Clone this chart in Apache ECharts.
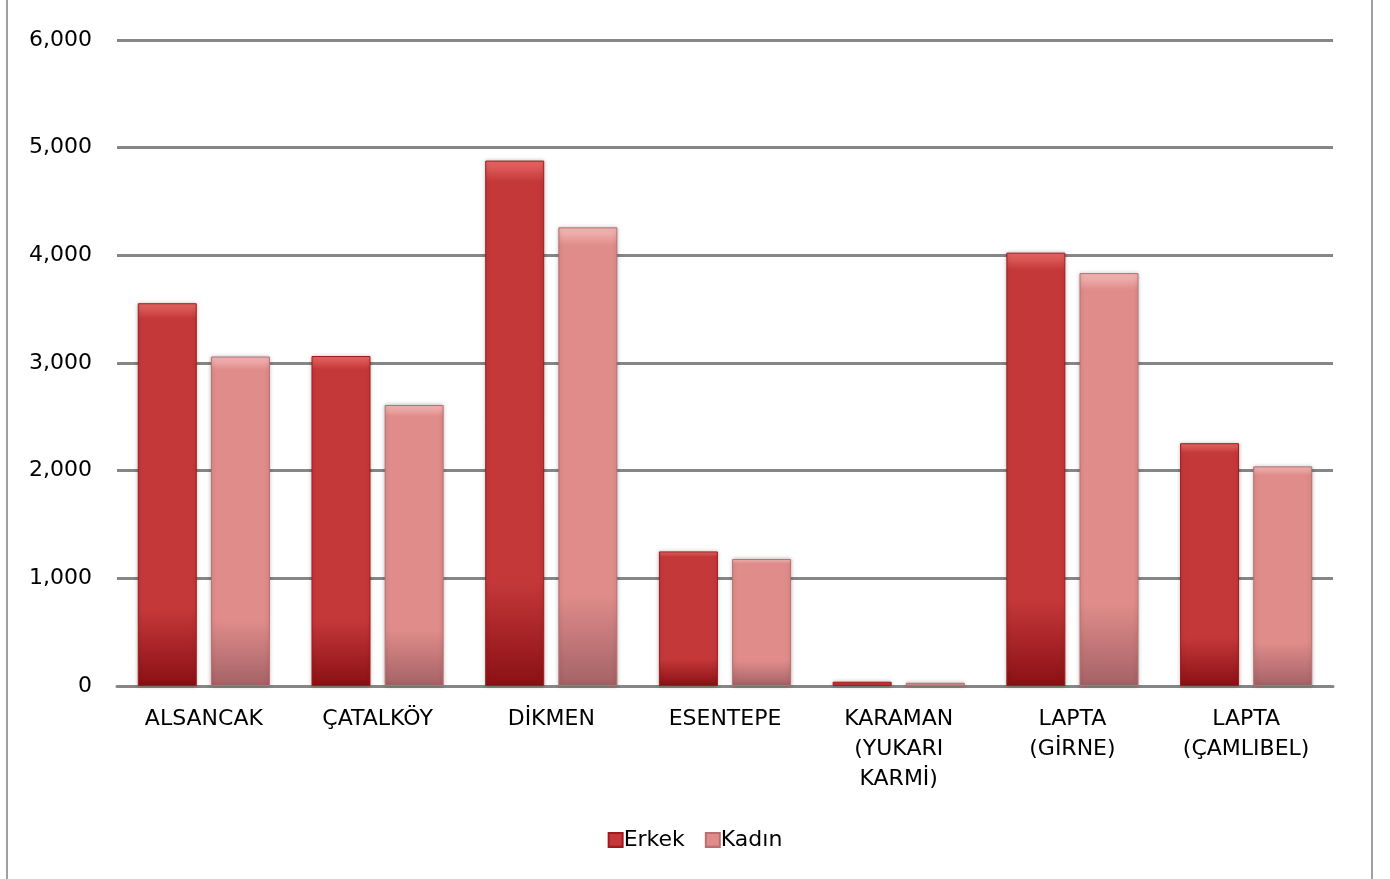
<!DOCTYPE html>
<html>
<head>
<meta charset="utf-8">
<script src="https://cdn.jsdelivr.net/npm/echarts@6/dist/echarts.min.js"></script>
<style>
html,body{margin:0;padding:0;background:#fff;width:1390px;height:879px;overflow:hidden;}
#frame{position:absolute;left:6px;top:-4px;width:1367px;height:886px;border:2px solid #a0a0a0;box-sizing:border-box;}
#chart{position:absolute;left:0;top:0;width:1390px;height:879px;}
</style>
</head>
<body>
<div id="frame"></div>
<div id="chart"></div>
<script>
var categories = ['ALSANCAK', 'ÇATALKÖY', 'DİKMEN', 'ESENTEPE', 'KARAMAN\n(YUKARI\nKARMİ)', 'LAPTA\n(GİRNE)', 'LAPTA\n(ÇAMLIBEL)'];
var erkek = [3555, 3065, 4880, 1250, 40, 4025, 2255];
var kadin = [3060, 2610, 4260, 1180, 30, 3835, 2040];
var seriesNames = ['Erkek', 'Kadın'];

var font = 'DejaVu Sans, Verdana, sans-serif';
function grad(top, mid, bot) {
  return new echarts.graphic.LinearGradient(0, 0, 0, 1, [
    {offset: 0, color: top}, {offset: 0.04, color: mid}, {offset: 0.8, color: mid}, {offset: 1, color: bot}
  ]);
}
var chart = echarts.init(document.getElementById('chart'));
chart.setOption({
  animation: false,
  grid: {left: 117, right: 57, top: 40, bottom: 193},
  legend: {
    bottom: 23, left: 'center', itemWidth: 14, itemHeight: 14, itemGap: 20,
    icon: 'rect',
    textStyle: {fontFamily: font, fontSize: 22, color: '#000', padding: [0, 0, 0, -4]},
    data: seriesNames
  },
  xAxis: {
    type: 'category', data: categories,
    axisLine: {lineStyle: {color: '#868686', width: 3}},
    axisTick: {show: false},
    axisLabel: {fontFamily: font, fontSize: 22, color: '#000', lineHeight: 30, margin: 18, interval: 0}
  },
  yAxis: {
    type: 'value', min: 0, max: 6000, interval: 1000,
    axisLine: {show: false}, axisTick: {show: false},
    splitLine: {lineStyle: {color: '#868686', width: 3}},
    axisLabel: {fontFamily: font, fontSize: 22, color: '#000', margin: 25,
      formatter: function (v) { return v.toLocaleString('en-US'); }}
  },
  series: [
    {name: seriesNames[0], type: 'bar', data: erkek, barWidth: 59, barGap: '24%',
      itemStyle: {color: grad('#e86a66', '#c5383a', '#8a1014'), borderColor: '#a01a1c', borderWidth: 1,
        shadowColor: 'rgba(0,0,0,0.25)', shadowBlur: 4}},
    {name: seriesNames[1], type: 'bar', data: kadin, barWidth: 59,
      itemStyle: {color: grad('#f5bcb9', '#e08c8a', '#a46266'), borderColor: '#b87072', borderWidth: 1,
        shadowColor: 'rgba(0,0,0,0.25)', shadowBlur: 4}}
  ]
});
</script>
</body>
</html>
